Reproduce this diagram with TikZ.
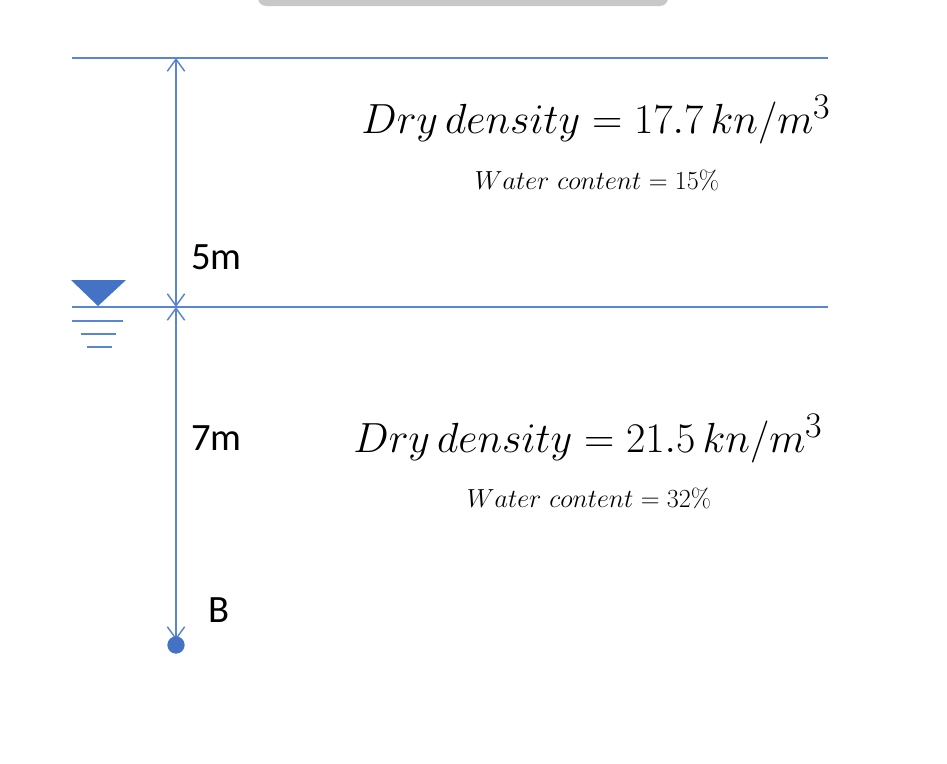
\RequirePackage{fix-cm}
\documentclass[tikz,border=0pt]{standalone}
\usepackage{fontspec}
\newfontfamily\calib{Carlito}
\usetikzlibrary{arrows.meta}
\definecolor{lblue}{HTML}{4472C4}
\definecolor{lineblue}{HTML}{5A85D0}
\definecolor{barg}{HTML}{C8C8C8}
\newcommand{\bigsup}[1]{^{\mbox{\fontsize{27}{30}\selectfont #1}}}
\tikzset{
  gline/.style={draw=lineblue, line width=1.4pt},
  dimline/.style={draw=lineblue, line width=1.1pt},
  barb/.tip={Straight Barb[length=9pt, width=13pt, line width=1.1pt]},
  lab/.style={font=\calib\fontsize{29}{32}\selectfont, anchor=west, inner sep=0pt},
  bigm/.style={font=\fontsize{31.6}{36}\selectfont, inner sep=0pt},
  smallm/.style={font=\fontsize{19.6}{22}\selectfont, inner sep=0pt}
}
\begin{document}
\begin{tikzpicture}[x=0.75pt, y=-0.75pt]
\useasboundingbox (0,0) rectangle (947,764);
\fill[white] (0,0) rectangle (947,764);
% gray bar at top
\fill[barg, rounded corners=6pt] (258,-12) rectangle (668,6);
% layer boundaries
\coordinate (tl) at (72,58);
\coordinate (tr) at (828,58);
\coordinate (ml) at (72,307);
\coordinate (mr) at (828,307);
\draw[gline] (tl) -- (tr);
\draw[gline] (ml) -- (mr);
% dimension line
\coordinate (dtop) at (176,58);
\coordinate (dmid) at (176,307);
\coordinate (dbot) at (176,640);
\draw[dimline, {barb}-{barb}] (dtop) -- (dmid);
\draw[dimline, {barb}-{barb}] (dmid) -- (dbot);
\node[circle, fill=lblue, minimum size=13pt, inner sep=0pt] (B) at (176,645) {};
% water table symbol
\fill[lblue] (71,280) -- (126,280) -- (98,306) -- cycle;
\draw[gline] (72,321) -- (123,321);
\draw[gline] (81,334) -- (116,334);
\draw[gline] (87,347) -- (112,347);
% labels
\node[lab] (l5) at (191,257) {5m};
\node[lab] (l7) at (191,438) {7m};
\node[lab] (lB) at (208,610) {B};
\node[bigm] (d1) at (596,119) {$Dry\,density = 17.7\,kn/m\bigsup{3}$};
\node[smallm] (w1) at (597,180) {$Water\ content = 15\%$};
\node[bigm] (d2) at (588,438) {$Dry\,density = 21.5\,kn/m\bigsup{3}$};
\node[smallm] (w2) at (589,498) {$Water\ content = 32\%$};
\end{tikzpicture}
\end{document}
